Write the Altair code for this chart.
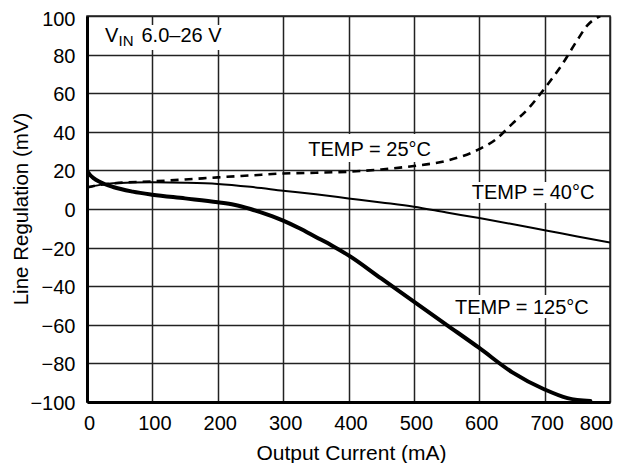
import altair as alt
import pandas as pd

# ---- data ----
x_40 = [0, 20, 40, 100, 150, 200, 250, 300, 350, 400, 450, 500, 550, 600, 650, 700, 750, 800]
y_40 = [11.2, 12.5, 13.3, 13.8, 13.6, 13.0, 11.5, 9.5, 7.6, 5.5, 3.4, 1.2, -1.8, -4.7, -7.8, -11.0, -14.2, -17.4]

x_25 = [0, 20, 40, 100, 150, 200, 250, 300, 350, 400, 450, 500, 550, 600, 625, 650, 675, 700, 725, 750, 765, 785]
y_25 = [11.2, 12.5, 13.3, 14.3, 15.3, 16.4, 17.4, 18.4, 18.8, 19.3, 20.5, 22.3, 25.0, 31.0, 36.0, 44.0, 52.0, 62.5, 74.0, 87.5, 95.0, 100.0]

x_125 = [0, 5, 10, 20, 40, 70, 100, 150, 200, 225, 250, 275, 300, 325, 350, 375, 400, 450, 500, 550, 600, 650, 700, 735, 770]
y_125 = [19.8, 17.5, 16.0, 14.0, 11.4, 9.0, 7.4, 5.5, 3.5, 2.2, 0.0, -2.8, -6.0, -10.0, -14.5, -19.0, -24.0, -36.0, -48.0, -60.0, -72.0, -84.5, -93.5, -98.0, -99.5]

x_ticks = [0, 100, 200, 300, 400, 500, 600, 700, 800]
y_ticks = [-100, -80, -60, -40, -20, 0, 20, 40, 60, 80, 100]

# annotation labels (data coordinates)
label_text = ["TEMP = 25°C", "TEMP = 40°C", "TEMP = 125°C"]
label_x = [338.5, 588.4, 562.9]
label_y = [27.6, 5.0, -54.4]

# white boxes behind labels (data coordinates)
box_x1 = [333, 582.7, 556.7, 21.4]
box_x2 = [532, 778.5, 770.9, 212.6]
box_y1 = [38.9, 14.0, -44.6, 95.3]
box_y2 = [24.4, 3.1, -56.5, 82.4]

vin_x = [27.5]
vin_y = [86.7]

FONT = "Liberation Sans"

d40 = pd.DataFrame({"x": x_40, "y": y_40})
d25 = pd.DataFrame({"x": x_25, "y": y_25})
d125 = pd.DataFrame({"x": x_125, "y": y_125})
dlab = pd.DataFrame({"x": label_x, "y": label_y, "t": label_text})
dbox = pd.DataFrame({"x": box_x1, "x2": box_x2, "y": box_y1, "y2": box_y2})
dvin = pd.DataFrame({"x": vin_x, "y": vin_y})

xscale = alt.Scale(domain=[0, 800], nice=False, zero=False)
yscale = alt.Scale(domain=[-100, 100], nice=False, zero=False)

xaxis = alt.Axis(
    values=x_ticks, title="Output Current (mA)", grid=True, ticks=False,
    labelFlush=False, labelPadding=11,
    labelOffset={"condition": {"test": "datum.value == 800", "value": -14}, "value": 2},
    domainWidth=3, domainColor="#000",
    titleX=264, titleY=57, titleBaseline="alphabetic", titleFontSize=21,
)
yaxis = alt.Axis(
    values=y_ticks, title="Line Regulation (mV)", grid=True, ticks=False,
    labelPadding=12,
    labelOffset={"condition": {"test": "datum.value == 100", "value": 3}, "value": 1.5},
    domainWidth=3, domainColor="#000",
    titleX=-60, titleY=192.5, titleBaseline="alphabetic", titleFontSize=20.5,
)

X = alt.X("x:Q", scale=xscale, axis=xaxis)
Y = alt.Y("y:Q", scale=yscale, axis=yaxis)

boxes = alt.Chart(dbox).mark_rect(color="white", opacity=1).encode(
    x=alt.X("x:Q", scale=xscale, axis=xaxis), x2="x2:Q",
    y=alt.Y("y:Q", scale=yscale, axis=yaxis), y2="y2:Q",
)

line40 = alt.Chart(d40).mark_line(color="black", strokeWidth=2, interpolate="monotone", clip=True).encode(x=X, y=Y)
line25 = alt.Chart(d25).mark_line(color="black", strokeWidth=2.6, strokeDash=[8, 6], interpolate="monotone", clip=True).encode(x=X, y=Y)
line125 = alt.Chart(d125).mark_line(color="black", strokeWidth=4, strokeCap="round", interpolate="monotone", clip=True).encode(x=X, y=Y)

labels = alt.Chart(dlab).mark_text(
    align="left", baseline="alphabetic", font=FONT, fontSize=20, color="black"
).encode(x=X, y=Y, text="t:N")

vin_v = alt.Chart(dvin).mark_text(align="left", baseline="alphabetic", font=FONT, fontSize=20, color="black").encode(
    x=X, y=Y, text=alt.value("V"))
vin_sub = alt.Chart(dvin).mark_text(align="left", baseline="alphabetic", font=FONT, fontSize=15, color="black", dx=13.5, dy=4.3).encode(
    x=X, y=Y, text=alt.value("IN"))
vin_rest = alt.Chart(dvin).mark_text(align="left", baseline="alphabetic", font=FONT, fontSize=20, color="black", dx=36.5).encode(
    x=X, y=Y, text=alt.value("6.0–26 V"))

chart = alt.layer(boxes, line40, line25, line125, labels, vin_v, vin_sub, vin_rest).properties(
    width=523, height=386,
    autosize=alt.AutoSizeParams(type="none"),
    padding={"left": 79, "top": 8, "right": 4, "bottom": 61},
).configure_view(
    stroke="#222", strokeWidth=1.5
).configure_axis(
    gridColor="#222", gridWidth=1.5, gridOpacity=1,
    labelFont=FONT, labelFontSize=20, labelColor="black",
    titleFont=FONT, titleFontWeight="normal", titleColor="black",
)

chart.save("out.html", embed_options={"renderer": "svg", "actions": False})
